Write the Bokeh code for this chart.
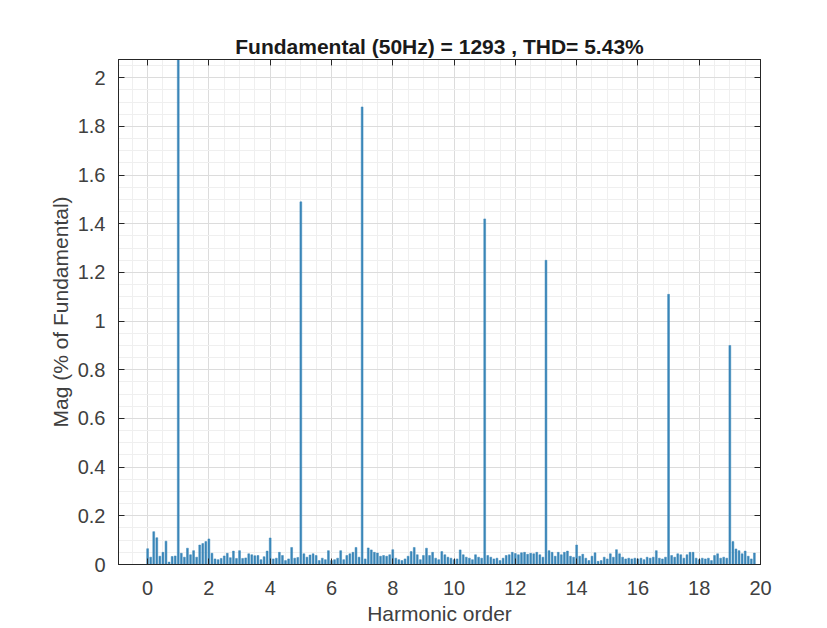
import numpy as np
from bokeh.plotting import figure
from bokeh.models import FixedTicker, Range1d, LinearAxis, CustomJSTickFormatter
from bokeh.embed import file_html
from bokeh.resources import INLINE

title_text = "Fundamental (50Hz) = 1293 , THD= 5.43%"
x_label = "Harmonic order"
y_label = "Mag (% of Fundamental)"

# harmonic order of each spectral line (0.1 harmonic = 5 Hz resolution)
orders = np.round(np.arange(0, 199) * 0.1, 1)

# magnitude in % of fundamental (10 lines per harmonic)
mag = [
    0.065, 0.030, 0.135, 0.110, 0.034, 0.050, 0.096, 0.010, 0.033, 0.035,   # 0.x
    100.0, 0.046, 0.030, 0.067, 0.040, 0.057, 0.030, 0.080, 0.086, 0.094,   # 1.x
    0.105, 0.046, 0.023, 0.020, 0.025, 0.035, 0.046, 0.028, 0.055, 0.025,   # 2.x
    0.057, 0.025, 0.027, 0.044, 0.040, 0.036, 0.037, 0.020, 0.032, 0.055,   # 3.x
    0.109, 0.023, 0.026, 0.050, 0.037, 0.016, 0.023, 0.070, 0.026, 0.029,   # 4.x
    1.490, 0.044, 0.030, 0.039, 0.044, 0.037, 0.016, 0.026, 0.020, 0.057,   # 5.x
    0.016, 0.020, 0.026, 0.057, 0.020, 0.037, 0.044, 0.050, 0.070, 0.030,   # 6.x
    1.880, 0.023, 0.068, 0.060, 0.050, 0.047, 0.034, 0.037, 0.034, 0.040,   # 7.x
    0.061, 0.026, 0.020, 0.016, 0.023, 0.034, 0.053, 0.070, 0.040, 0.020,   # 8.x
    0.037, 0.067, 0.037, 0.050, 0.026, 0.020, 0.053, 0.040, 0.030, 0.026,   # 9.x
    0.020, 0.023, 0.060, 0.040, 0.030, 0.026, 0.020, 0.040, 0.030, 0.026,   # 10.x
    1.420, 0.037, 0.030, 0.023, 0.026, 0.016, 0.026, 0.037, 0.040, 0.050,   # 11.x
    0.045, 0.040, 0.048, 0.050, 0.042, 0.046, 0.044, 0.050, 0.040, 0.030,   # 12.x
    1.250, 0.057, 0.050, 0.034, 0.050, 0.040, 0.050, 0.055, 0.034, 0.030,   # 13.x
    0.080, 0.034, 0.042, 0.026, 0.016, 0.034, 0.048, 0.013, 0.016, 0.030,   # 14.x
    0.023, 0.044, 0.030, 0.061, 0.044, 0.030, 0.023, 0.026, 0.023, 0.026,   # 15.x
    0.023, 0.026, 0.020, 0.030, 0.026, 0.030, 0.057, 0.026, 0.023, 0.030,   # 16.x
    1.110, 0.037, 0.030, 0.044, 0.040, 0.026, 0.040, 0.050, 0.050, 0.026,   # 17.x
    0.020, 0.026, 0.023, 0.026, 0.016, 0.037, 0.044, 0.026, 0.030, 0.026,   # 18.x
    0.900, 0.094, 0.064, 0.057, 0.044, 0.055, 0.034, 0.023, 0.047,          # 19.x
]

x_ticks = [0, 2, 4, 6, 8, 10, 12, 14, 16, 18, 20]
y_ticks = [0, 0.2, 0.4, 0.6, 0.8, 1.0, 1.2, 1.4, 1.6, 1.8, 2.0]
y_tick_labels = {0: "0", 0.2: "0.2", 0.4: "0.4", 0.6: "0.6", 0.8: "0.8", 1.0: "1",
                 1.2: "1.2", 1.4: "1.4", 1.6: "1.6", 1.8: "1.8", 2.0: "2"}

FONT = "Liberation Sans"
AX = "#262626"

p = figure(width=800, height=627, output_backend="svg", toolbar_location=None,
           x_range=Range1d(-0.95, 20), y_range=Range1d(0, 2.075),
           min_border_left=118, min_border_right=40, min_border_top=59,
           min_border_bottom=60)
p.background_fill_color = "white"
p.border_fill_color = "white"
p.outline_line_color = AX
p.outline_line_width = 1

p.vbar(x=orders, top=mag, width=0.06, bottom=0, fill_color="#3a86b8",
       line_color="#3a86b8", line_width=0.5)

p.title.text = title_text
p.title.align = "center"
p.title.text_font = FONT
p.title.text_font_size = "21px"
p.title.text_font_style = "bold"
p.title.text_color = "#1a1a1a"
p.title.standoff = 4

bottom_ax = p.below[0]
left_ax = p.left[0]

x_minor = [v / 2 for v in range(-2, 41)]
y_minor = [round(v * 0.05, 2) for v in range(0, 42)]
bottom_ax.ticker = FixedTicker(ticks=x_ticks, minor_ticks=x_minor)
left_ax.ticker = FixedTicker(ticks=y_ticks, minor_ticks=y_minor)
left_ax.major_label_overrides = y_tick_labels

# mirrored tick marks on the right and top sides (box style), no labels
blank = CustomJSTickFormatter(code="return ''")
right_ax = LinearAxis(ticker=FixedTicker(ticks=y_ticks), formatter=blank)
top_ax = LinearAxis(ticker=FixedTicker(ticks=x_ticks), formatter=blank)
p.add_layout(right_ax, "right")
p.add_layout(top_ax, "above")

for ax in (bottom_ax, left_ax, right_ax, top_ax):
    ax.axis_line_color = AX
    ax.major_tick_line_color = AX
    ax.major_tick_in = 6
    ax.major_tick_out = 0
    ax.minor_tick_line_color = None
    ax.major_label_text_font = FONT
    ax.major_label_text_font_size = "20px"
    ax.major_label_text_color = "#404040"
    ax.axis_label_text_font = FONT
    ax.axis_label_text_font_size = "21px"
    ax.axis_label_text_font_style = "normal"
    ax.axis_label_text_color = "#404040"
top_ax.major_label_standoff = 0
right_ax.major_label_standoff = 0
bottom_ax.axis_label = x_label
left_ax.axis_label = y_label
bottom_ax.major_label_standoff = 12
left_ax.major_label_standoff = 9
bottom_ax.axis_label_standoff = 4
left_ax.axis_label_standoff = 3

p.xgrid.grid_line_color = "#dcdcdc"
p.ygrid.grid_line_color = "#dcdcdc"
p.xgrid.minor_grid_line_color = "#efefef"
p.ygrid.minor_grid_line_color = "#efefef"

open("out.html", "w").write(file_html(p, INLINE))
